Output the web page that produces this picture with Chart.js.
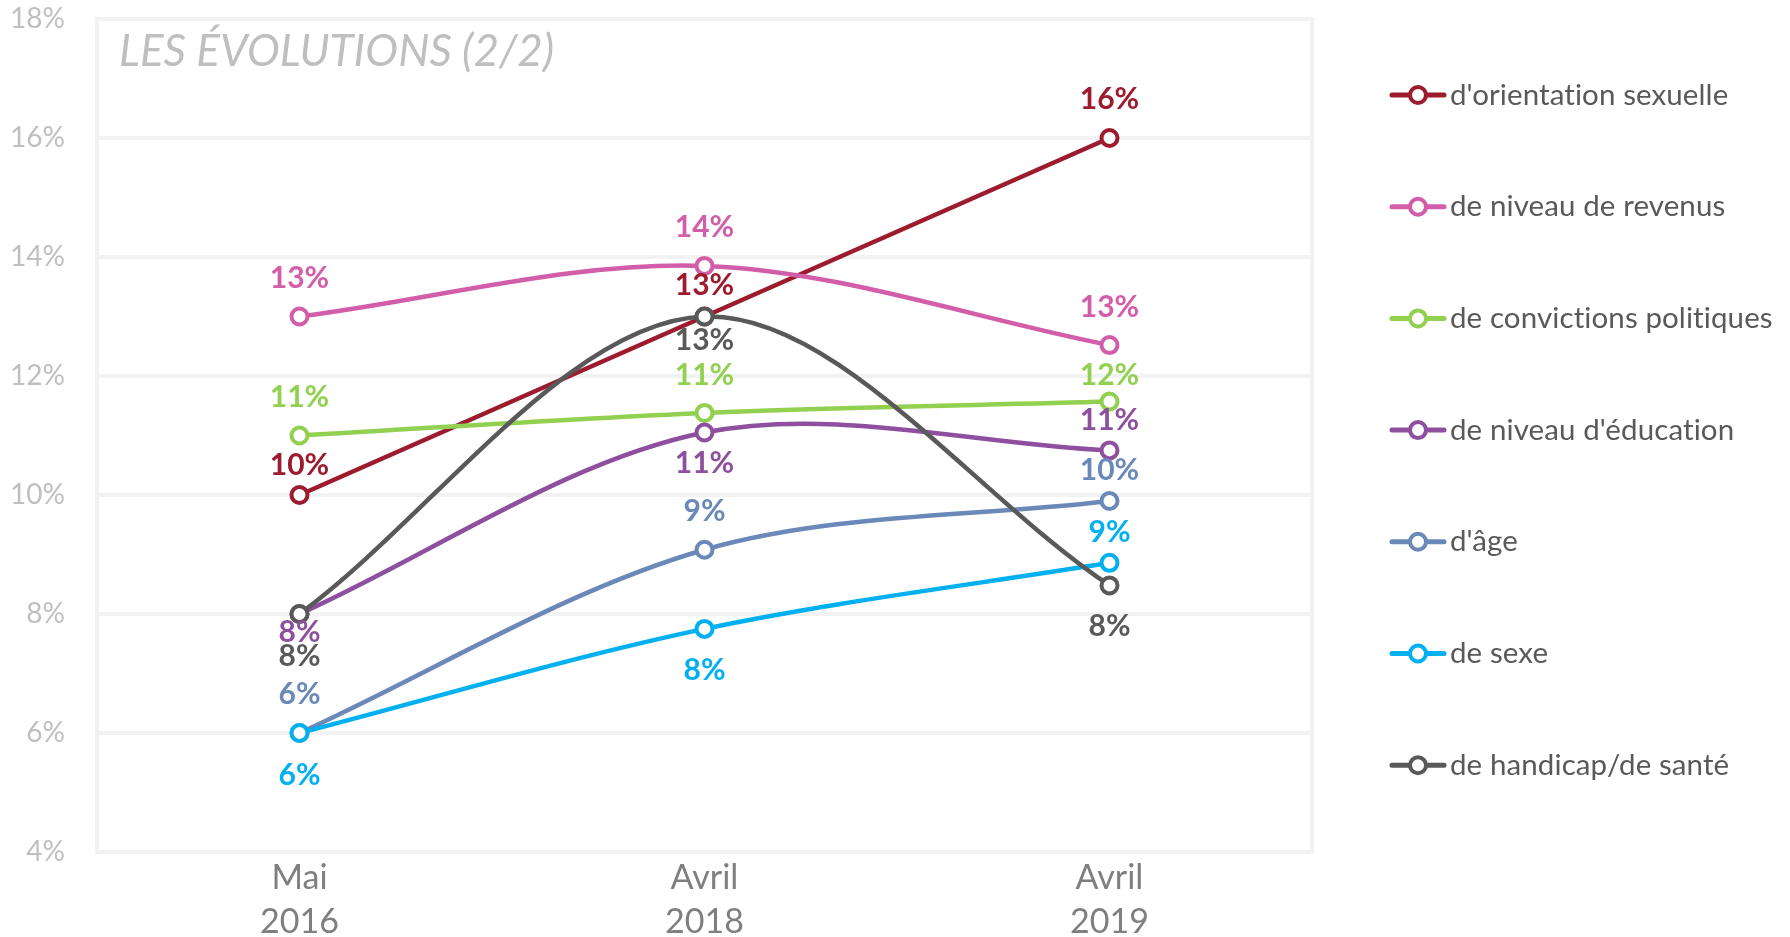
<!DOCTYPE html>
<html>
<head>
<meta charset="utf-8">
<script src="https://cdn.jsdelivr.net/npm/chart.js@4.4.0/dist/chart.umd.min.js"></script>
<style>
    body { margin: 0; background: #fff; }
    #chart { display: block; }
</style>
</head>
<body>
<canvas id="chart" width="1790" height="937"></canvas>
<script>
// categories and series
var categories = [["Mai", "2016"], ["Avril", "2018"], ["Avril", "2019"]];
var seriesNames = [
    "d'orientation sexuelle",
    "de niveau de revenus",
    "de convictions politiques",
    "de niveau d'éducation",
    "d'âge",
    "de sexe",
    "de handicap/de santé"
];
var orientation = [10, 13, 16];
var revenus = [13, 13.85, 12.52];
var convictions = [11, 11.38, 11.57];
var education = [8, 11.05, 10.75];
var age = [6, 9.08, 9.9];
var sexe = [6, 7.75, 8.86];
var handicap = [8, 13, 8.48];
var yTicks = [4, 6, 8, 10, 12, 14, 16, 18];

var colors = ["#9c1b2e", "#d25ea9", "#92d050", "#8e509e", "#6a88b8", "#00b0f0", "#595959"];
var series = [orientation, revenus, convictions, education, age, sexe, handicap];

// vertical offset of each value label (px), per series and point
var labelOffsets = [
    [-30, -31, -39],
    [-38, -39, -38],
    [-38, -38, -26],
    [18, 31, -30],
    [-39, -38, -31],
    [42, 41, -31],
    [42, 24, 41]
];

var FONT = "Lato";
Chart.defaults.font.family = FONT;

var datasets = series.map(function (values, i) {
    return {
        label: seriesNames[i],
        data: values,
        borderColor: colors[i],
        backgroundColor: "#ffffff",
        borderWidth: 4.5,
        pointRadius: 8,
        pointBorderWidth: 4,
        pointBackgroundColor: "#ffffff",
        pointBorderColor: colors[i],
        tension: 0.33,
        order: series.length - i
    };
});

var frameAndTitle = {
    id: "frameAndTitle",
    beforeDatasetsDraw: function (chart) {
        var ctx = chart.ctx, a = chart.chartArea;
        ctx.save();
        ctx.strokeStyle = "#f2f2f2";
        ctx.lineWidth = 4;
        ctx.strokeRect(a.left, a.top, a.right - a.left, a.bottom - a.top);
        ctx.fillStyle = "#bfbfbf";
        ctx.font = "italic 44px " + FONT;
        ctx.textBaseline = "middle";
        ctx.textAlign = "left";
        ctx.fillText("LES ÉVOLUTIONS (2/2)", a.left + 22, 52);
        ctx.restore();
    }
};

var valueLabels = {
    id: "valueLabels",
    afterDatasetsDraw: function (chart) {
        var ctx = chart.ctx;
        ctx.save();
        ctx.font = "bold 30px " + FONT;
        ctx.textAlign = "center";
        ctx.textBaseline = "middle";
        chart.data.datasets.forEach(function (ds, i) {
            var meta = chart.getDatasetMeta(i);
            meta.data.forEach(function (pt, j) {
                ctx.fillStyle = colors[i];
                ctx.fillText(Math.round(ds.data[j]) + "%", pt.x, pt.y + labelOffsets[i][j]);
            });
        });
        ctx.restore();
    }
};

var sideLegend = {
    id: "sideLegend",
    afterDraw: function (chart) {
        var ctx = chart.ctx;
        ctx.save();
        chart.data.datasets.forEach(function (ds, i) {
            var y = 95 + i * 111.7;
            ctx.strokeStyle = colors[i];
            ctx.lineWidth = 5;
            ctx.lineCap = "round";
            ctx.beginPath();
            ctx.moveTo(1392, y);
            ctx.lineTo(1444, y);
            ctx.stroke();
            ctx.beginPath();
            ctx.arc(1418, y, 8, 0, Math.PI * 2);
            ctx.fillStyle = "#ffffff";
            ctx.fill();
            ctx.lineWidth = 4;
            ctx.stroke();
            ctx.fillStyle = "#595959";
            ctx.font = "29.5px " + FONT;
            ctx.letterSpacing = "0.1px"; // avoids the "ti" ligature
            ctx.textAlign = "left";
            ctx.textBaseline = "middle";
            ctx.fillText(ds.label, 1450, y);
        });
        ctx.restore();
    }
};

new Chart(document.getElementById("chart"), {
    type: "line",
    data: {
        labels: categories,
        datasets: datasets
    },
    options: {
        responsive: false,
        animation: false,
        layout: {
            padding: { top: 19, right: 478, bottom: 0, left: 0 }
        },
        plugins: {
            legend: { display: false },
            tooltip: { enabled: false }
        },
        scales: {
            x: {
                offset: true,
                grid: { display: false },
                border: { display: false },
                ticks: {
                    color: "#7f7f7f",
                    padding: -4,
                    font: { size: 34, lineHeight: "44px" },
                    maxRotation: 0
                },
                afterFit: function (scale) {
                    scale.height = 85;
                    scale.paddingLeft = 0;
                    scale.paddingRight = 0;
                }
            },
            y: {
                min: 4,
                max: 18,
                grid: { color: "#f2f2f2", lineWidth: 4, drawTicks: false },
                border: { display: false },
                ticks: {
                    color: "#bfbfbf",
                    padding: 32,
                    font: { size: 28 },
                    callback: function (v) { return v + "%"; }
                },
                afterBuildTicks: function (scale) {
                    scale.ticks = yTicks.map(function (v) { return { value: v }; });
                },
                afterFit: function (scale) {
                    scale.width = 97;
                    scale.paddingTop = 0;
                    scale.paddingBottom = 0;
                }
            }
        }
    },
    plugins: [frameAndTitle, valueLabels, sideLegend]
});
</script>
</body>
</html>
